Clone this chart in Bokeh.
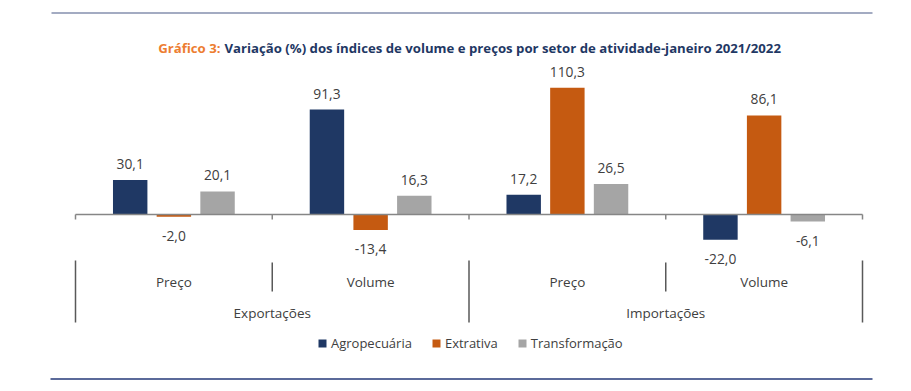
from bokeh.plotting import figure
from bokeh.models import ColumnDataSource, FactorRange, Range1d, Legend, LegendItem
from bokeh.transform import dodge
from bokeh.core.properties import value
from bokeh.embed import file_html
from bokeh.resources import INLINE

# ---- data ----
groups = ["Exportações", "Importações"]
subcats = ["Preço", "Volume"]
series = ["Agropecuária", "Extrativa", "Transformação"]
agro = [30.1, 91.3, 17.2, -22.0]
extr = [-2.0, -13.4, 110.3, 86.1]
transf = [20.1, 16.3, 26.5, -6.1]
title_a = "Gráfico 3:"
title_b = "Variação (%) dos índices de volume e preços por setor de atividade-janeiro 2021/2022"

colors = ["#1F3864", "#C55A11", "#A5A5A5"]
FONT = "Open Sans"
TXT = "#404040"

factors = [(g, s) for g in groups for s in subcats]
n = len(factors)

W, H = 900, 388
ML, MR = 48, 11
frame_w = W - ML - MR
ppu = 196.75
pad = (frame_w / ppu - n) / 2

x_range = FactorRange(*factors, factor_padding=0, group_padding=0,
                      range_padding=pad, range_padding_units="absolute")
zero_px = 214.0
py = 1.15
y_range = Range1d(-(H - zero_px) / py, zero_px / py)

def ypx(p):  # canvas-top pixel -> data y
    return (zero_px - p) / py

def xpx(p):  # canvas-left pixel -> synthetic x
    return (p - ML) / ppu - pad

p = figure(width=W, height=H, x_range=x_range, y_range=y_range,
           output_backend="svg", toolbar_location=None,
           min_border_left=ML, min_border_right=MR, min_border_top=0, min_border_bottom=0)
p.xaxis.visible = False
p.yaxis.visible = False
p.xgrid.visible = False
p.ygrid.visible = False
p.outline_line_color = None

src = ColumnDataSource(dict(cat=factors, agro=agro, extr=extr, transf=transf))
offs = [-0.222, 0.0, 0.222]
cols = ["agro", "extr", "transf"]
renderers = []
for k in range(3):
    r = p.vbar(x=dodge("cat", offs[k], range=x_range), top=cols[k], bottom=0,
               width=0.175, source=src, fill_color=colors[k], line_color=None)
    renderers.append(r)
    vals = src.data[cols[k]]
    lbl = ColumnDataSource(dict(
        cat=factors, y=vals,
        t=[("%.1f" % v).replace(".", ",") for v in vals],
        off=[-16 if v >= 0 else 19 for v in vals]))
    p.text(x=dodge("cat", offs[k], range=x_range), y="y", text="t", y_offset="off",
           source=lbl, text_align="center", text_baseline="middle",
           text_font=value(FONT), text_font_size="13.8px", text_color=TXT)

# axis line at zero and ticks at boundaries
p.segment(x0=[0], y0=[0], x1=[n], y1=[0], line_color="#868686", line_width=1.5)
p.segment(x0=list(range(n + 1)), y0=[0] * (n + 1), x1=list(range(n + 1)),
          y1=[ypx(zero_px + 5)] * (n + 1), line_color="#868686", line_width=1.5)
# separators
outer = [i for i in range(n + 1) if i % len(subcats) == 0]
inner = [i for i in range(n + 1) if i % len(subcats) != 0]
p.segment(x0=outer, y0=[ypx(260)] * len(outer), x1=outer, y1=[ypx(322)] * len(outer),
          line_color="#595959", line_width=1.5)
p.segment(x0=inner, y0=[ypx(262)] * len(inner), x1=inner, y1=[ypx(291)] * len(inner),
          line_color="#595959", line_width=1.5)
# category labels
p.text(x=factors, y=[ypx(281)] * n, text=[f[1] for f in factors],
       text_align="center", text_baseline="middle",
       text_font=value(FONT), text_font_size="13.5px", text_color=TXT)
p.text(x=groups, y=[ypx(312)] * len(groups), text=groups,
       text_align="center", text_baseline="middle",
       text_font=value(FONT), text_font_size="13.5px", text_color=TXT)

# horizontal rules
p.segment(x0=[xpx(51)], y0=[ypx(12.5)], x1=[xpx(872)], y1=[ypx(12.5)],
          line_color="#A3ABC2", line_width=2)
p.segment(x0=[xpx(50)], y0=[ypx(378.5)], x1=[xpx(872)], y1=[ypx(378.5)],
          line_color="#5B6A9A", line_width=2)

# title
split_x = xpx(220)
p.text(x=[split_x], y=[ypx(47)], text=[title_a], text_align="right", text_baseline="middle",
       text_font=value(FONT), text_font_size="13.2px", text_font_style="bold",
       text_color="#ED7D31")
p.text(x=[xpx(224)], y=[ypx(47)], text=[title_b], text_align="left",
       text_baseline="middle", text_font=value(FONT), text_font_size="13.2px",
       text_font_style="bold", text_color="#1F3864")

legend = Legend(items=[LegendItem(label=series[k], renderers=[renderers[k]]) for k in range(3)],
                orientation="horizontal", location=(269, 36),
                glyph_width=10, glyph_height=10, label_height=12, label_standoff=4,
                spacing=19, padding=0, margin=0, border_line_color=None,
                background_fill_alpha=0, label_text_font=FONT,
                label_text_font_size="13px", label_text_color=TXT)
p.add_layout(legend, "center")

open("out.html", "w").write(file_html(p, INLINE))
